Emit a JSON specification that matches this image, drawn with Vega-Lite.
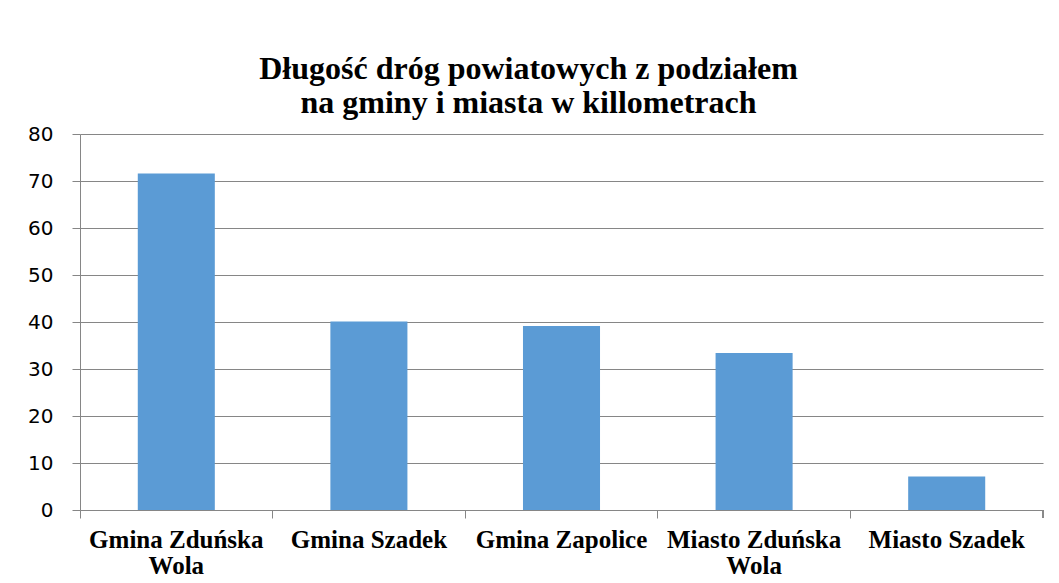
{
  "$schema": "https://vega.github.io/schema/vega-lite/v6.json",
  "width": 963,
  "height": 376,
  "autosize": {"type": "none"},
  "padding": {"left": 80, "top": 134, "right": 16, "bottom": 73},
  "background": "white",
  "title": {
    "text": ["Długość dróg powiatowych z podziałem", "na gminy i miasta w killometrach"],
    "font": "Liberation Serif",
    "fontSize": 32,
    "fontWeight": "bold",
    "color": "black",
    "anchor": "middle",
    "dx": -33,
    "offset": -28,
    "lineHeight": 34,
    "baseline": "bottom"
  },
  "data": {
    "values": [
      {"gmina": "Gmina Zduńska Wola", "km": 71.57},
      {"gmina": "Gmina Szadek", "km": 40.1},
      {"gmina": "Gmina Zapolice", "km": 39.15},
      {"gmina": "Miasto Zduńska Wola", "km": 33.4},
      {"gmina": "Miasto Szadek", "km": 7.112}
    ]
  },
  "encoding": {
    "x": {
      "field": "gmina",
      "type": "nominal",
      "sort": null,
      "scale": {"paddingInner": 0, "paddingOuter": 0},
      "axis": {
        "title": null,
        "labelAngle": 0,
        "bandPosition": 0,
        "labelFont": "Liberation Serif",
        "labelFontSize": 25,
        "labelFontWeight": "bold",
        "labelColor": "black",
        "labelPadding": 9,
        "labelLineHeight": 26,
        "labelLimit": 0,
        "labelOverlap": false,
        "labelBound": false,
        "labelExpr": "indexof(datum.label, ' Wola') > 0 ? [replace(datum.label, ' Wola', ''), 'Wola'] : datum.label",
        "domainColor": "#868686",
        "domainWidth": 1,
        "tickColor": "#868686",
        "tickSize": 8,
        "grid": false
      }
    }
  },
  "layer": [
    {
      "mark": {"type": "bar", "color": "#5B9BD5", "width": {"band": 0.4}},
      "encoding": {
        "y": {
          "field": "km",
          "type": "quantitative",
          "scale": {"domain": [0, 80]},
          "axis": {
            "title": null,
            "values": [0, 10, 20, 30, 40, 50, 60, 70, 80],
            "labelFont": "DejaVu Sans",
            "labelFontSize": 20,
            "labelColor": "black",
            "labelPadding": 19,
            "domainColor": "#868686",
            "tickColor": "#868686",
            "tickSize": 8,
            "gridColor": "#868686",
            "gridWidth": 1
          }
        }
      }
    },
    {
      "mark": {"type": "rule", "color": "#868686", "clip": false},
      "encoding": {
        "x": {"datum": "Miasto Szadek", "bandPosition": 1},
        "y": {"datum": 0},
        "y2": {"datum": -1.7}
      }
    }
  ],
  "config": {"view": {"stroke": null}}
}
